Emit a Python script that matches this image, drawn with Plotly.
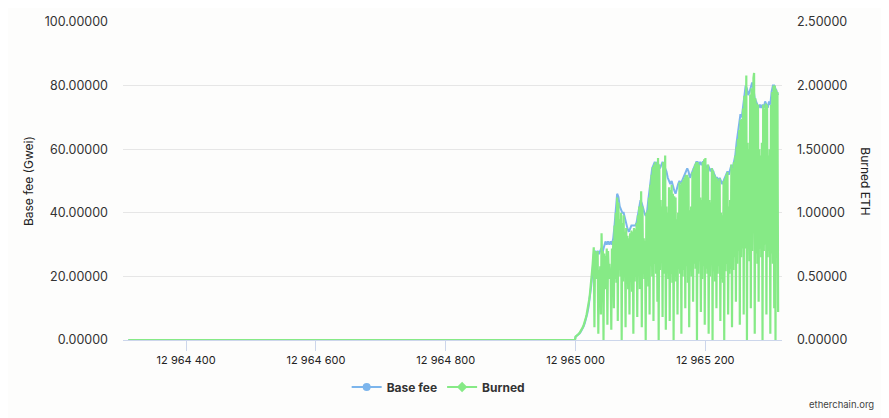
import plotly.graph_objects as go

# ---- data ----
PRE_FORK_BLOCKS = [12964311, 12964999]
PRE_FORK_BASE_FEE = [0.0, 0.0]
PRE_FORK_BURNED = [0.0, 0.0]

FORK_BLOCK = 12965000
BASE_FEE_STEP = 2   # base fee read every 2 blocks
BURNED_STEP = 1     # burned read every block

# base fee (Gwei), one value every 2 blocks from block 12965000
base_fee = [
    1.0, 1.27, 1.6, 2.03, 2.57, 3.25, 4.1, 5.2, 6.6, 8.3, 10.5, 13.3, 16.9, 21.3, 27.0,
    28, 27, 28, 27, 28, 29, 28, 30, 31, 30, 31, 30, 31, 30, 32, 36, 41, 46, 45, 42,
    41, 40, 40, 38, 37, 35, 34, 35, 36, 36, 36, 36, 37, 39, 42, 44, 43, 41, 40, 39,
    40, 44, 48, 52, 54, 55, 56, 55, 56, 55, 54, 55, 56, 55, 54, 53, 51, 50, 49, 50,
    48, 47, 46, 48, 49, 50, 49, 50, 51, 52, 53, 54, 53, 51, 52, 53, 54, 55, 56, 56,
    55, 56, 55, 56, 56, 55, 54, 55, 54, 53, 54, 53, 52, 51, 51, 50, 51, 50, 49, 50,
    51, 52, 53, 52, 54, 55, 54, 56, 58, 62, 65, 68, 71, 70, 73, 77, 80, 79, 77, 78,
    80, 81, 79, 76, 75, 74, 73, 74, 73, 74, 73, 75, 74, 73, 75, 74, 78, 80, 80, 79,
    78, 77,
]

# burned (ETH), one value per block from block 12965000
burned = [
    0.027, 0.030, 0.034, 0.038, 0.043, 0.049, 0.055, 0.062, 0.069, 0.078,
    0.088, 0.099, 0.110, 0.124, 0.140, 0.158, 0.178, 0.200, 0.224, 0.252,
    0.284, 0.319, 0.359, 0.405, 0.456, 0.513, 0.575, 0.648, 0.729, 0.10,
    0.70, 0.48, 0.68, 0.52, 0.70, 0.05, 0.55, 0.45, 0.58, 0.20,
    0.84, 0.55, 0.70, 0.00, 0.68, 0.50, 0.66, 0.40, 0.72, 0.12,
    0.70, 0.55, 0.60, 0.48, 0.55, 0.08, 0.72, 0.50, 0.78, 0.25,
    0.90, 0.48, 1.00, 0.45, 1.12, 0.15, 1.08, 0.55, 0.95, 0.50,
    1.00, 0.00, 0.92, 0.46, 0.98, 0.50, 0.85, 0.10, 0.88, 0.44,
    0.82, 0.40, 0.80, 0.20, 0.84, 0.48, 0.86, 0.38, 0.85, 0.05,
    0.88, 0.46, 0.87, 0.50, 0.92, 0.18, 0.98, 0.52, 1.05, 0.40,
    1.10, 1.17, 0.10, 1.05, 0.55, 0.80, 0.48, 0.78, 0.00, 1.00,
    0.50, 1.02, 0.42, 1.12, 0.20, 1.22, 0.58, 1.30, 0.50, 1.36,
    0.15, 1.38, 0.60, 1.40, 0.52, 1.38, 0.30, 1.43, 0.00, 1.38,
    0.55, 1.10, 0.62, 1.05, 0.18, 1.40, 0.52, 1.38, 1.45, 0.08,
    1.05, 0.55, 1.00, 0.48, 1.20, 0.15, 1.18, 0.52, 1.22, 0.45,
    1.15, 0.00, 1.13, 0.50, 1.12, 0.46, 0.95, 0.20, 1.00, 0.56,
    1.24, 0.52, 1.22, 0.05, 1.24, 0.50, 1.26, 0.55, 1.28, 0.25,
    1.30, 0.58, 1.30, 0.45, 1.28, 0.10, 1.02, 0.54, 1.05, 0.50,
    1.32, 0.30, 1.35, 0.60, 1.38, 0.56, 1.40, 0.00, 1.40, 0.52,
    1.38, 0.62, 1.12, 0.22, 1.10, 0.48, 1.40, 0.58, 1.42, 0.12,
    1.43, 0.56, 1.35, 0.52, 1.38, 0.05, 1.10, 0.50, 1.08, 0.60,
    1.35, 0.00, 1.33, 0.54, 1.30, 0.46, 1.28, 0.25, 1.27, 0.52,
    1.25, 0.58, 1.27, 0.15, 1.00, 0.48, 0.98, 0.45, 1.25, 0.00,
    1.27, 0.54, 1.30, 0.60, 1.32, 0.20, 1.05, 0.52, 1.10, 0.56,
    1.38, 0.10, 1.35, 0.55, 1.40, 0.65, 1.45, 0.30, 1.52, 0.60,
    1.58, 0.70, 1.65, 0.12, 1.73, 0.65, 1.74, 0.72, 1.82, 0.20,
    1.92, 0.72, 2.02, 2.08, 0.00, 1.55, 0.75, 1.50, 0.62, 1.93,
    0.25, 1.98, 0.70, 2.02, 2.06, 2.10, 0.05, 1.90, 0.68, 1.86,
    0.60, 1.85, 0.30, 1.50, 0.72, 1.45, 0.65, 1.55, 0.00, 1.85,
    0.70, 1.82, 0.75, 1.86, 0.20, 1.85, 0.65, 1.45, 0.70, 1.50,
    0.05, 1.85, 0.68, 1.95, 0.60, 2.00, 0.25, 2.00, 0.00, 1.97,
    0.65, 1.95, 0.22,
]

X_TICKS = [12964400, 12964600, 12964800, 12965000, 12965200]
X_TICK_TEXT = ["12 964 400", "12 964 600", "12 964 800", "12 965 000", "12 965 200"]
Y_LEFT_TICKS = [0, 20, 40, 60, 80, 100]
Y_RIGHT_TICKS = [0, 0.5, 1.0, 1.5, 2.0, 2.5]

# ---- build ----
bf_blocks = PRE_FORK_BLOCKS + [FORK_BLOCK + BASE_FEE_STEP * i for i in range(len(base_fee))]
bf_values = PRE_FORK_BASE_FEE + base_fee
bu_blocks = PRE_FORK_BLOCKS + [FORK_BLOCK + BURNED_STEP * i for i in range(len(burned))]
bu_values = PRE_FORK_BURNED + burned

BLUE = "#7cb5ec"
GREEN = "#86ea86"
FONT = "Inter, Roboto, sans-serif"
TXT = "#333333"
BG = "#fdfdfc"

fig = go.Figure()
fig.add_trace(go.Scatter(x=bf_blocks, y=bf_values, mode="lines", name="Base fee",
                         line=dict(color=BLUE, width=2), yaxis="y", showlegend=False,
                         hoverinfo="skip"))
fig.add_trace(go.Scatter(x=bu_blocks, y=bu_values, mode="lines", name="Burned",
                         line=dict(color=GREEN, width=2.2), yaxis="y2", showlegend=False,
                         hoverinfo="skip"))
# legend entries (line + marker symbols)
fig.add_trace(go.Scatter(x=[None], y=[None], mode="lines+markers", name="Base fee",
                         line=dict(color=BLUE, width=2),
                         marker=dict(symbol="circle", size=8, color=BLUE)))
fig.add_trace(go.Scatter(x=[None], y=[None], mode="lines+markers", name="Burned",
                         line=dict(color=GREEN, width=2), yaxis="y2",
                         marker=dict(symbol="diamond", size=8, color=GREEN)))

# the page adds an 8px body margin, so the figure is 8px smaller and margins shifted
fig.update_layout(
    width=881, height=410,
    margin=dict(l=115, r=107, t=14, b=78, autoexpand=False),
    paper_bgcolor=BG, plot_bgcolor=BG,
    font=dict(family=FONT, size=12, color=TXT),
    xaxis=dict(
        range=[12964302.7, 12965318], tickvals=X_TICKS, ticktext=X_TICK_TEXT,
        showgrid=False, zeroline=False, showline=True, linecolor="#ccd6eb", linewidth=1,
        ticks="outside", ticklen=10, tickcolor="#ccd6eb", tickwidth=1,
        tickfont=dict(size=11, color="#222222"), automargin=False,
    ),
    yaxis=dict(
        range=[0, 100], tickvals=Y_LEFT_TICKS, tickformat=".5f",
        showgrid=True, gridcolor="#e6e6e6", gridwidth=1, zeroline=False,
        showline=False, ticks="", ticklabelstandoff=14, automargin=False,
        tickfont=dict(size=12.5, color=TXT),
    ),
    yaxis2=dict(
        range=[0, 2.5], tickvals=Y_RIGHT_TICKS, tickformat=".5f", overlaying="y",
        side="right", showgrid=False, zeroline=False, showline=False, ticks="",
        ticklabelstandoff=14, automargin=False, tickfont=dict(size=12.5, color=TXT),
    ),
    legend=dict(orientation="h", x=0.479, xanchor="center", y=-0.148, yanchor="middle",
                font=dict(size=12, color=TXT, weight="bold"), bgcolor="rgba(0,0,0,0)",
                itemwidth=30, tracegroupgap=0),
    annotations=[
        dict(text="Base fee (Gwei)", x=-0.144, y=0.5, xref="paper", yref="paper",
             textangle=-90, showarrow=False, font=dict(size=12, color="#222222"),
             xanchor="center", yanchor="middle"),
        dict(text="Burned ETH", x=1.127, y=0.5, xref="paper", yref="paper",
             textangle=90, showarrow=False, font=dict(size=12, color="#222222"),
             xanchor="center", yanchor="middle"),
        dict(text="etherchain.org", x=1.142, y=-0.204, xref="paper", yref="paper",
             showarrow=False, font=dict(size=9.5, color="#444444"),
             xanchor="right", yanchor="middle"),
    ],
)

fig.write_html("out.html")
